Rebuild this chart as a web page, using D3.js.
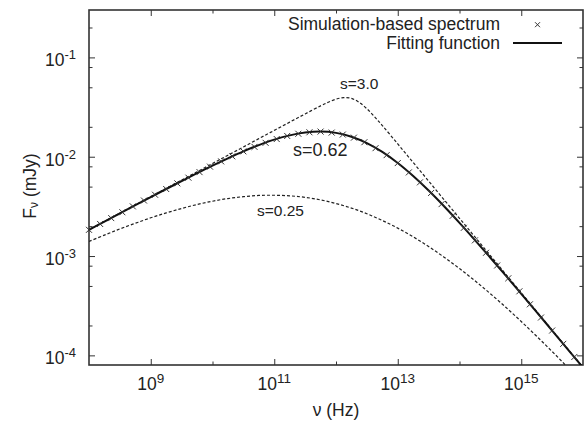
<!DOCTYPE html>
<html>
<head>
<meta charset="utf-8">
<script src="https://cdn.jsdelivr.net/npm/d3@7"></script>
<style>
  body { margin: 0; background: #fff; }
  text { font-family: "Liberation Sans", Arial, Helvetica, sans-serif; fill: #222; }
</style>
</head>
<body>
<div id="chart"></div>
<script>
var width = 585,
    height = 423;

// all values are log10: nu in Hz, F_nu in mJy
var gridLogNu = [8.0, 8.25, 8.5, 8.75, 9.0, 9.25, 9.5, 9.75, 10.0, 10.25, 10.5, 10.75, 11.0, 11.25, 11.5, 11.75,
                 12.0, 12.25, 12.5, 12.75, 13.0, 13.25, 13.5, 13.75, 14.0, 14.25, 14.5, 14.75, 15.0, 15.25, 15.5, 15.75, 16.0];

// fitting function, s = 0.62
var fitLogF = [-2.736, -2.653, -2.570, -2.488, -2.406, -2.325, -2.245, -2.166, -2.089, -2.016, -1.946, -1.883, -1.828, -1.785, -1.757, -1.747,
               -1.760, -1.799, -1.863, -1.952, -2.064, -2.195, -2.341, -2.499, -2.666, -2.839, -3.017, -3.197, -3.380, -3.564, -3.750, -3.936, -4.122];

// dashed, s = 0.25
var s025LogF = [-2.853, -2.789, -2.727, -2.670, -2.615, -2.566, -2.521, -2.481, -2.448, -2.421, -2.402, -2.390, -2.388, -2.394, -2.409, -2.435,
                -2.471, -2.517, -2.574, -2.642, -2.719, -2.807, -2.904, -3.011, -3.126, -3.249, -3.379, -3.516, -3.659, -3.808, -3.961, -4.119, -4.281];

// dashed, s = 3.0 (denser round the sharp break)
var s3LogNu = [8.0, 8.25, 8.5, 8.75, 9.0, 9.25, 9.5, 9.75, 10.0, 10.25, 10.5, 10.75, 11.0, 11.25, 11.5, 11.75, 11.875, 12.0, 12.125,
               12.25, 12.375, 12.5, 12.625, 12.75, 13.0, 13.25, 13.5, 13.75, 14.0, 14.25, 14.5, 14.75, 15.0, 15.25, 15.5, 15.75, 16.0];
var s3LogF = [-2.735, -2.652, -2.568, -2.485, -2.402, -2.318, -2.235, -2.152, -2.068, -1.985, -1.902, -1.818, -1.735, -1.652, -1.569, -1.488, -1.451, -1.421, -1.405,
              -1.413, -1.452, -1.517, -1.598, -1.686, -1.871, -2.058, -2.245, -2.433, -2.620, -2.808, -2.995, -3.183, -3.370, -3.558, -3.745, -3.933, -4.120];

// simulation-based spectrum (crosses)
var simLogNu = [8.00, 8.18, 8.36, 8.54, 8.71, 8.89, 9.07, 9.25, 9.43, 9.61, 9.79, 9.96, 10.14, 10.32, 10.50, 10.68, 10.86, 11.04, 11.21, 11.39, 11.57, 11.75,
                11.93, 12.11, 12.29, 12.46, 12.64, 12.82, 13.00, 13.18, 13.36, 13.54, 13.71, 13.89, 14.07, 14.25, 14.43, 14.61, 14.79, 14.97, 15.14, 15.32, 15.50, 15.68, 15.86];
var simLogF = [-2.736, -2.677, -2.618, -2.559, -2.500, -2.441, -2.383, -2.325, -2.268, -2.211, -2.155, -2.100, -2.047, -1.996, -1.946, -1.901, -1.860, -1.822, -1.791, -1.769, -1.754, -1.747,
               -1.757, -1.777, -1.808, -1.854, -1.914, -1.984, -2.064, -2.158, -2.258, -2.365, -2.477, -2.595, -2.716, -2.842, -2.967, -3.095, -3.224, -3.355, -3.486, -3.619, -3.750, -3.884, -4.016];

var xTickExp = [9, 11, 13, 15],
    xMinorExp = [10, 12, 14];
var yTickExp = [-1, -2, -3, -4],
    yMinorVals = [0.2, 0.08, 0.05, 0.02, 0.008, 0.005, 0.002, 0.0008, 0.0005, 0.0002];

// text anchored at its left end / baseline
var curveLabels = [
  {text: "s=3.0", nu: 1.16e12, f: 4.78e-2, size: 15.5},
  {text: "s=0.62", nu: 2.01e11, f: 1.02e-2, size: 18},
  {text: "s=0.25", nu: 5.26e10, f: 2.53e-3, size: 15.5}
];

var pow = function(e) { return Math.pow(10, e); };

var x = d3.scaleLog()
    .domain([1e8, 1e16])
    .range([89, 583]);

var y = d3.scaleLog()
    .domain([8e-5, 0.3])
    .range([365, 10]);

var svg = d3.select("#chart").append("svg")
    .attr("width", width)
    .attr("height", height);

svg.append("clipPath").attr("id", "clip")
  .append("rect")
    .attr("x", 89).attr("y", 10)
    .attr("width", 583 - 89).attr("height", 365 - 10);

// ticks on all four sides, pointing in
function tickAxis(axis, vals, size, tx, ty) {
  var g = svg.append("g")
      .attr("transform", "translate(" + tx + "," + ty + ")")
      .call(axis.tickValues(vals).tickSize(-size).tickSizeOuter(0).tickFormat(""));
  g.select(".domain").remove();
  g.selectAll("line").attr("stroke", "#333").attr("stroke-width", 1);
}
var xMaj = xTickExp.map(pow), xMin = xMinorExp.map(pow), yMaj = yTickExp.map(pow);
tickAxis(d3.axisBottom(x), xMaj, 6, 0, 365);
tickAxis(d3.axisTop(x), xMaj, 6, 0, 10);
tickAxis(d3.axisBottom(x), xMin, 3.5, 0, 365);
tickAxis(d3.axisTop(x), xMin, 3.5, 0, 10);
tickAxis(d3.axisLeft(y), yMaj, 6, 89, 0);
tickAxis(d3.axisRight(y), yMaj, 6, 583, 0);
tickAxis(d3.axisLeft(y), yMinorVals, 3.5, 89, 0);
tickAxis(d3.axisRight(y), yMinorVals, 3.5, 583, 0);

svg.append("rect")
    .attr("x", 89).attr("y", 10)
    .attr("width", 583 - 89).attr("height", 365 - 10)
    .attr("fill", "none")
    .attr("stroke", "#333")
    .attr("stroke-width", 1.6);

// tick labels
var xl = svg.selectAll(".xlab").data(xTickExp).enter().append("text")
    .attr("class", "xlab")
    .attr("x", function(d) { return x(pow(d)); })
    .attr("y", 390)
    .attr("text-anchor", "middle")
    .style("font-size", "17.5px");
xl.append("tspan").text("10");
xl.append("tspan").attr("dy", -7).style("font-size", "13.5px").text(function(d) { return d; });

var yl = svg.selectAll(".ylab").data(yTickExp).enter().append("text")
    .attr("class", "ylab")
    .attr("x", 76)
    .attr("y", function(d) { return y(pow(d)) + 9; })
    .attr("text-anchor", "end")
    .style("font-size", "17.5px");
yl.append("tspan").text("10");
yl.append("tspan").attr("dy", -7).style("font-size", "13px").text(function(d) { return d; });

// axis titles
svg.append("text")
    .attr("x", 336)
    .attr("y", 416)
    .attr("text-anchor", "middle")
    .style("font-size", "17.5px")
    .text("\u03bd (Hz)");

var yt = svg.append("text")
    .attr("transform", "translate(36,186) rotate(-90)")
    .attr("text-anchor", "middle")
    .style("font-size", "17.5px");
yt.append("tspan").text("F");
yt.append("tspan").attr("dy", 2).style("font-size", "12px").text("\u03bd");
yt.append("tspan").attr("dy", -2).text(" (mJy)");

// curves
var line = d3.line()
    .x(function(d) { return x(pow(d[0])); })
    .y(function(d) { return y(pow(d[1])); })
    .curve(d3.curveCatmullRom);

var plot = svg.append("g").attr("clip-path", "url(#clip)");

plot.append("path")
    .datum(d3.zip(s3LogNu, s3LogF))
    .attr("d", line)
    .attr("fill", "none")
    .attr("stroke", "#222")
    .attr("stroke-width", 1.2)
    .attr("stroke-dasharray", "3,2");

plot.append("path")
    .datum(d3.zip(gridLogNu, s025LogF))
    .attr("d", line)
    .attr("fill", "none")
    .attr("stroke", "#222")
    .attr("stroke-width", 1.2)
    .attr("stroke-dasharray", "3,2");

plot.append("path")
    .datum(d3.zip(gridLogNu, fitLogF))
    .attr("d", line)
    .attr("fill", "none")
    .attr("stroke", "#111")
    .attr("stroke-width", 2);

var cross = function(g, cx, cy, r) {
  g.append("path")
      .attr("d", "M" + (cx - r) + "," + (cy - r) + "L" + (cx + r) + "," + (cy + r) +
                 "M" + (cx - r) + "," + (cy + r) + "L" + (cx + r) + "," + (cy - r))
      .attr("stroke", "#333")
      .attr("stroke-width", 1)
      .attr("fill", "none");
};

var marks = svg.append("g");
d3.zip(simLogNu, simLogF).forEach(function(d) {
  cross(marks, x(pow(d[0])), y(pow(d[1])), 3);
});

// curve labels
svg.selectAll(".clab").data(curveLabels).enter().append("text")
    .attr("class", "clab")
    .attr("x", function(d) { return x(d.nu); })
    .attr("y", function(d) { return y(d.f); })
    .style("font-size", function(d) { return d.size + "px"; })
    .text(function(d) { return d.text; });

// legend
svg.append("text")
    .attr("x", 500).attr("y", 30)
    .attr("text-anchor", "end")
    .style("font-size", "17.5px")
    .text("Simulation-based spectrum");
cross(svg, 537.5, 24.7, 2.5);

svg.append("text")
    .attr("x", 500).attr("y", 49)
    .attr("text-anchor", "end")
    .style("font-size", "17.5px")
    .text("Fitting function");
svg.append("line")
    .attr("x1", 513).attr("x2", 562)
    .attr("y1", 43).attr("y2", 43)
    .attr("stroke", "#111")
    .attr("stroke-width", 2);
</script>
</body>
</html>
